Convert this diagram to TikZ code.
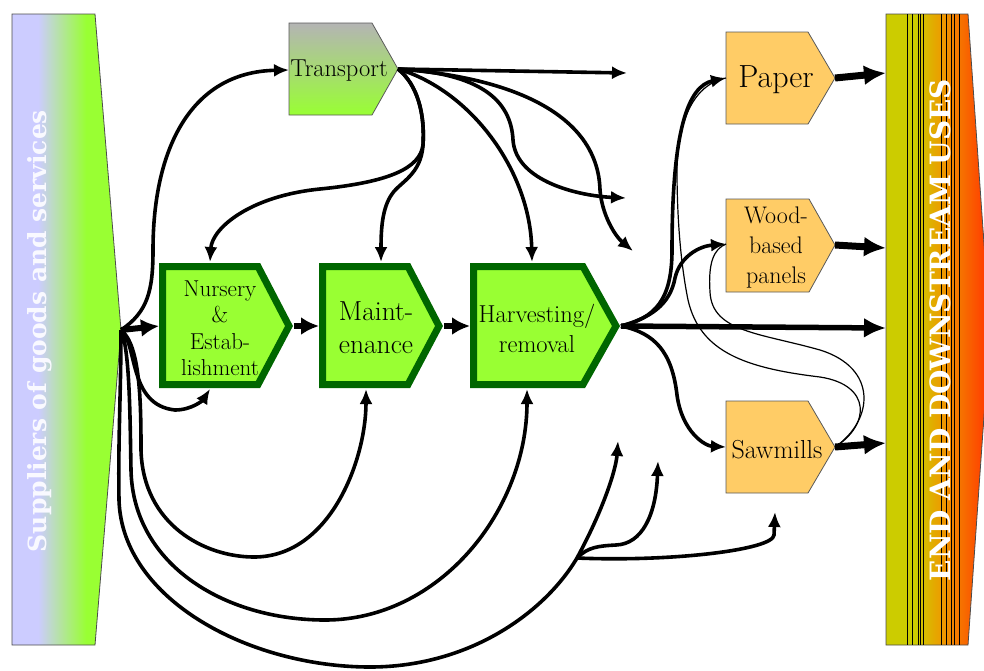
\documentclass[tikz,border=0pt]{standalone}
\usepackage{fontspec}
\newfontfamily\sideface{DejaVu Serif}
\usetikzlibrary{arrows.meta}

\definecolor{suplav}{HTML}{CCCCFF}
\definecolor{supgreen}{HTML}{99FF33}
\definecolor{stageframe}{HTML}{006600}
\definecolor{trngray}{HTML}{B4B4B4}
\definecolor{prodorange}{HTML}{FFCC66}
\definecolor{endolive}{HTML}{CCCC00}
\definecolor{endorange}{HTML}{EE9A00}
\definecolor{endred}{HTML}{FF4000}

\pgfdeclarehorizontalshading{supshade}{100bp}{color(0bp)=(suplav); color(37bp)=(suplav); color(59bp)=(supgreen); color(100bp)=(supgreen)}
\pgfdeclarehorizontalshading{endshade}{100bp}{color(0bp)=(endolive); color(39bp)=(endolive); color(52bp)=(endorange); color(72bp)=(endred); color(100bp)=(endred)}

\begin{document}
\begin{tikzpicture}[x=1pt,y=-1pt]
\tikzstyle{side_text} = [rotate=90, inner sep=0pt]
\tikzstyle{stage_style} = [fill=supgreen, draw=stageframe, line width=7pt, line join=miter]
\tikzstyle{prod_style} = [fill=prodorange, draw=black!65, line width=0.8pt]
\tikzstyle{label_style} = [inner sep=0pt, align=center]
\tikzstyle{flow_style} = [-{Latex[length=15pt,width=13pt]}, black, line width=3.6pt]
\tikzstyle{chain_style} = [-{Latex[length=18pt,width=18pt]}, black, line width=6pt]
\tikzstyle{out_style} = [-{Latex[length=22pt,width=20pt]}, black, line width=7pt]
\tikzstyle{thin_style} = [black, line width=1.2pt]
\useasboundingbox (0,0) rectangle (984,670);

    \shadedraw[shading=supshade, draw=black!70, line width=0.8pt] (12,14) -- (95,14) -- (121,330) -- (95,645) -- (12,645) -- cycle;
    \node[side_text, text=white!88!suplav, font=\sideface\bfseries\fontsize{25}{30}\selectfont] (sup) at (40,331) {Suppliers of goods and services};

    \shadedraw[shading=endshade, draw=black!70, line width=0.8pt] (886,14) -- (968,14) -- (990,330) -- (968,645) -- (886,645) -- cycle;
    \foreach \x in {907,912,918,920,923,941,946,951,954,959}
        \draw[black, line width=0.6pt] (\x,14) -- (\x,645);
    \node[side_text, text=white, font=\sideface\bfseries\fontsize{28}{32}\selectfont] (end) at (940,330) {END AND DOWNSTREAM USES};

    \shadedraw[top color=trngray, bottom color=supgreen, draw=black!65, line width=0.8pt] (289,23) -- (372,23) -- (398,69) -- (372,115) -- (289,115) -- cycle;
    \node[label_style, font=\fontsize{24.5}{28}\selectfont] (trn) at (339,71) {Transport};

    \draw[stage_style] (162.5,266.5) -- (258,266.5) -- (289,326) -- (258,384.5) -- (162.5,384.5) -- cycle;
    \node[label_style, font=\fontsize{23}{26.5}\selectfont] (nur) at (220,328) {Nursery\\\&\\Estab-\\lishment};

    \draw[stage_style] (322.5,266.5) -- (408,266.5) -- (439,326) -- (408,384.5) -- (322.5,384.5) -- cycle;
    \node[label_style, font=\fontsize{27.5}{33}\selectfont] (mnt) at (376,328) {Maint-\\enance};

    \draw[stage_style] (473.5,266.5) -- (583,266.5) -- (616,326) -- (583,384.5) -- (473.5,384.5) -- cycle;
    \node[label_style, font=\fontsize{24.5}{30}\selectfont] (hrv) at (537,328) {Harvesting/\\removal};

    \draw[prod_style] (726,32) -- (808,32) -- (835,78) -- (808,124) -- (726,124) -- cycle;
    \node[label_style, font=\fontsize{32}{36}\selectfont] (pap) at (776,80) {Paper};

    \draw[prod_style] (726,199) -- (809,199) -- (835,245) -- (809,292) -- (726,292) -- cycle;
    \node[label_style, font=\fontsize{24}{30}\selectfont] (wbp) at (776,248) {Wood-\\based\\panels};

    \draw[prod_style] (726,401) -- (808,401) -- (835,447) -- (808,493) -- (726,493) -- cycle;
    \node[label_style, font=\fontsize{26}{30}\selectfont] (saw) at (777,450) {Sawmills};

    \coordinate (sup-tip) at (121,330);
    \coordinate (trn-in) at (289,70);
    \coordinate (trn-out) at (398,69);
    \coordinate (nur-in) at (159,326);
    \coordinate (nur-top) at (210,262);
    \coordinate (nur-bot) at (210,389);
    \coordinate (nur-out) at (294,326);
    \coordinate (mnt-in) at (319,326);
    \coordinate (mnt-top) at (381,262);
    \coordinate (mnt-bot) at (366,389);
    \coordinate (mnt-out) at (444,326);
    \coordinate (hrv-in) at (470,326);
    \coordinate (hrv-top) at (532,262);
    \coordinate (hrv-bot) at (527,389);
    \coordinate (hrv-out) at (621,326);
    \coordinate (pap-in) at (726,78);
    \coordinate (pap-out) at (835,78);
    \coordinate (wbp-in) at (726,244);
    \coordinate (wbp-out) at (835,245);
    \coordinate (saw-in) at (726,447);
    \coordinate (saw-out) at (835,447);
    \coordinate (end-pap) at (886,73);
    \coordinate (end-wbp) at (886,248);
    \coordinate (end-hrv) at (886,328);
    \coordinate (end-saw) at (886,443);
    \coordinate (trn-a) at (627,73);
    \coordinate (trn-b) at (626,198);
    \coordinate (trn-c) at (633,251);
    \coordinate (split) at (577,558);
    \coordinate (sup-a) at (618,441);
    \coordinate (sup-b) at (658,461);
    \coordinate (sup-c) at (775,512);

    \draw[chain_style] (sup-tip) -- (nur-in);
    \draw[chain_style] (nur-out) -- (mnt-in);
    \draw[chain_style] (mnt-out) -- (hrv-in);

    \draw[flow_style] (sup-tip) .. controls (148,312) and (153,290) .. (153,250) .. controls (153,150) and (190,72) .. (trn-in);
    \draw[flow_style] (sup-tip) .. controls (138,345) and (128,405) .. (175,410) .. controls (192,410) and (203,400) .. (nur-bot);
    \draw[flow_style] (sup-tip) .. controls (140,345) and (141,400) .. (141,450) .. controls (143,525) and (205,557) .. (254,557) .. controls (330,557) and (366,460) .. (mnt-bot);
    \draw[flow_style] (sup-tip) .. controls (130,350) and (130,420) .. (131,470) .. controls (133,565) and (225,620) .. (325,620) .. controls (440,620) and (527,510) .. (hrv-bot);
    \draw[flow_style] (sup-tip) .. controls (121,390) and (118,440) .. (119,500) .. controls (122,600) and (250,667) .. (370,667) .. controls (470,667) and (545,612) .. (split) .. controls (603,510) and (616,470) .. (sup-a);
    \draw[flow_style] (split) .. controls (588,547) and (598,546) .. (616,545) .. controls (642,544) and (656,515) .. (sup-b);
    \draw[flow_style] (split) .. controls (670,562) and (773,550) .. (774,535) -- (sup-c);

    \draw[flow_style] (trn-out) -- (trn-a);
    \draw[flow_style] (trn-out) .. controls (480,73) and (511,100) .. (513,140) .. controls (516,182) and (580,196) .. (trn-b);
    \draw[flow_style] (trn-out) .. controls (520,78) and (598,118) .. (600,190) .. controls (602,215) and (615,236) .. (trn-c);
    \draw[flow_style] (trn-out) .. controls (470,90) and (530,170) .. (hrv-top);
    \draw[flow_style] (trn-out) .. controls (418,85) and (425,115) .. (423,145) .. controls (421,175) and (400,182) .. (392,194) .. controls (382,208) and (381,230) .. (mnt-top);
    \draw[flow_style] (trn-out) .. controls (418,85) and (425,115) .. (423,145) .. controls (420,168) and (390,182) .. (320,189) .. controls (250,196) and (212,228) .. (nur-top);

    \draw[flow_style] (hrv-out) .. controls (655,318) and (672,300) .. (672,250) .. controls (672,130) and (688,86) .. (pap-in);
    \draw[flow_style] (hrv-out) .. controls (650,318) and (670,305) .. (675,278) .. controls (680,256) and (700,246) .. (wbp-in);
    \draw[flow_style] (hrv-out) .. controls (655,333) and (672,352) .. (677,395) .. controls (682,432) and (705,446) .. (saw-in);
    \draw[out_style, line width=5.5pt] (hrv-out) -- (end-hrv);

    \draw[thin_style] (saw-out) .. controls (870,425) and (872,385) .. (820,377) .. controls (745,368) and (700,352) .. (688,300) .. controls (679,255) and (677,205) .. (677,170) .. controls (678,118) and (695,84) .. (pap-in);
    \draw[thin_style] (saw-out) .. controls (874,420) and (878,368) .. (820,350) .. controls (760,333) and (712,332) .. (710,292) .. controls (708,262) and (714,249) .. (wbp-in);

    \draw[out_style] (pap-out) -- (end-pap);
    \draw[out_style] (wbp-out) -- (end-wbp);
    \draw[out_style] (saw-out) -- (end-saw);
\end{tikzpicture}
\end{document}
